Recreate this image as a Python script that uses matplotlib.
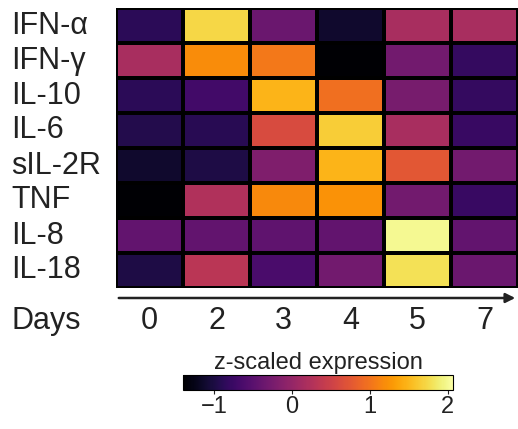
import matplotlib
matplotlib.use("Agg")
import matplotlib.pyplot as plt
import matplotlib.transforms as mtransforms
import numpy as np

plt.rcParams["font.family"] = ["Liberation Sans", "DejaVu Sans"]

# 데이터
cytokines = ["IFN-α", "IFN-γ", "IL-10", "IL-6", "sIL-2R", "TNF", "IL-8", "IL-18"]
days = ["0", "2", "3", "4", "5", "7"]

ifn_a  = [-0.88, 1.72, -0.36, -1.12, 0.16, 0.16]
ifn_g  = [0.16, 1.20, 1.03, -1.40, -0.29, -0.81]
il_10  = [-0.88, -0.70, 1.48, 0.96, -0.25, -0.81]
il_6   = [-0.95, -0.91, 0.61, 1.65, 0.16, -0.78]
sil_2r = [-1.12, -0.98, -0.19, 1.48, 0.75, -0.29]
tnf    = [-1.40, 0.23, 1.17, 1.24, -0.29, -0.78]
il_8   = [-0.43, -0.43, -0.46, -0.43, 2.00, -0.43]
il_18  = [-0.98, 0.33, -0.64, -0.29, 1.79, -0.36]

z = np.array([ifn_a, ifn_g, il_10, il_6, sil_2r, tnf, il_8, il_18])

W, H = 518, 429
fig = plt.figure(figsize=(W / 100, H / 100), dpi=100)
txt = "#222222"

# ─ 히트맵
ax = fig.add_axes([116 / W, 1 - 288 / H, 1 - 116 / W, 280 / H])
mesh = ax.pcolormesh(z, cmap="inferno", vmin=-1.4, vmax=2.07,
                     edgecolors="black", linewidth=1.5)
ax.set_xlim(0, len(days))
ax.set_ylim(len(cytokines), 0)
ax.set_xticks([])
ax.set_yticks([])
for s in ax.spines.values():
    s.set_visible(False)

# 행 라벨
tr_rows = mtransforms.blended_transform_factory(fig.transFigure, ax.transData)
for i, name in enumerate(cytokines):
    ax.text(11 / W, i + 0.5, name, transform=tr_rows, ha="left", va="center",
            fontsize=22, color=txt)

# 시간 화살표
y_arrow = 1 - 298 / H
fig.add_artist(matplotlib.patches.FancyArrowPatch(
    (116 / W, y_arrow), (1.0, y_arrow), transform=fig.transFigure,
    arrowstyle="-|>", mutation_scale=14, color="#222222", linewidth=1.8))

# Days 라벨
tr_cols = mtransforms.blended_transform_factory(ax.transData, fig.transFigure)
y_days = 1 - 321 / H
for j, d in enumerate(days):
    ax.text(j + 0.5, y_days, d, transform=tr_cols, ha="center", va="center",
            fontsize=22, color=txt)
fig.text(11 / W, y_days, "Days", ha="left", va="center", fontsize=22, color=txt)

# ─ 컬러바
cax = fig.add_axes([183 / W, 1 - 390 / H, 270 / W, 15 / H])
cb = fig.colorbar(mesh, cax=cax, orientation="horizontal", ticks=[-1, 0, 1, 2])
cb.outline.set_linewidth(0.8)
cax.tick_params(labelsize=17, colors=txt, length=3, pad=1)
cax.set_title("z-scaled expression", fontsize=17, color=txt, pad=4)

fig.savefig("out.png", dpi=100)
